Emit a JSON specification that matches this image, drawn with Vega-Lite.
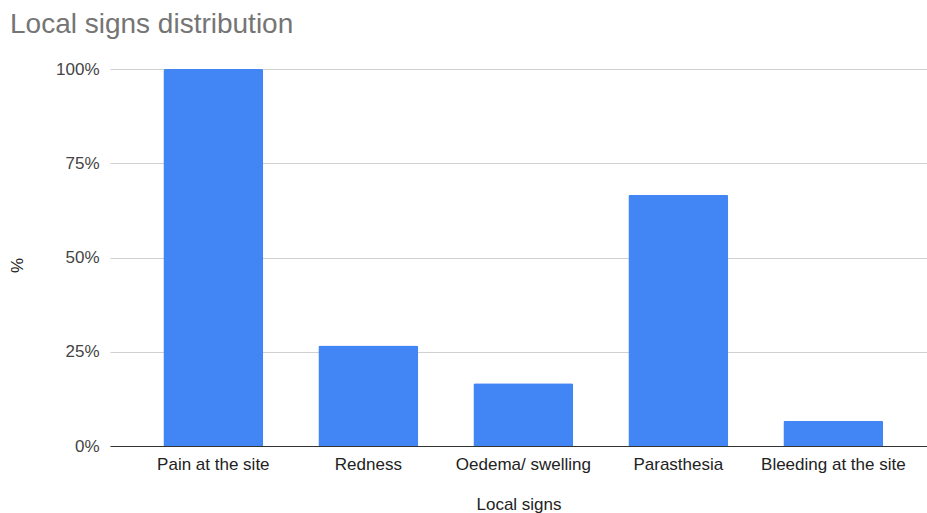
{
  "$schema": "https://vega.github.io/schema/vega-lite/v6.json",
  "autosize": "none",
  "width": 817,
  "height": 377,
  "padding": {"left": 110, "top": 69, "right": 0, "bottom": 67},
  "background": "white",
  "title": {
    "text": "Local signs distribution",
    "anchor": "start",
    "frame": "group",
    "dx": -100,
    "dy": 37,
    "offset": 36,
    "baseline": "alphabetic",
    "font": "Liberation Sans",
    "fontSize": 28,
    "fontWeight": "normal",
    "color": "#757575"
  },
  "data": {
    "values": [
      {"sign": "Pain at the site", "share": 1.0},
      {"sign": "Redness", "share": 0.2667},
      {"sign": "Oedema/ swelling", "share": 0.1667},
      {"sign": "Parasthesia", "share": 0.6667},
      {"sign": "Bleeding at the site", "share": 0.0667}
    ]
  },
  "mark": {
    "type": "bar",
    "color": "#4285F4",
    "cornerRadiusTopLeft": 2,
    "cornerRadiusTopRight": 2
  },
  "encoding": {
    "x": {
      "field": "sign",
      "type": "nominal",
      "sort": null,
      "scale": {"paddingInner": 0.355, "paddingOuter": 0.313, "align": 0.55},
      "axis": {
        "title": "Local signs",
        "labelAngle": 0,
        "ticks": false,
        "domain": true,
        "domainColor": "#333333",
        "domainWidth": 1,
        "labelFont": "Liberation Sans",
        "labelFontSize": 17,
        "labelColor": "#222222",
        "labelPadding": 10,
        "titleFont": "Liberation Sans",
        "titleFontSize": 17,
        "titleFontWeight": "normal",
        "titleColor": "#222222",
        "titleBaseline": "alphabetic",
        "titleY": 63
      }
    },
    "y": {
      "field": "share",
      "type": "quantitative",
      "scale": {"domain": [0, 1], "nice": false},
      "axis": {
        "title": "%",
        "format": ".0%",
        "values": [0, 0.25, 0.5, 0.75, 1],
        "ticks": false,
        "domain": false,
        "grid": true,
        "gridColor": "#d0d0d0",
        "gridWidth": 1,
        "labelFont": "Liberation Sans",
        "labelFontSize": 17,
        "labelColor": "#444444",
        "labelPadding": 11,
        "titleFont": "Liberation Sans",
        "titleFontSize": 17,
        "titleFontWeight": "normal",
        "titleColor": "#222222",
        "titleBaseline": "middle",
        "titleX": -93,
        "titleY": 196
      }
    }
  },
  "config": {"view": {"stroke": null}}
}
